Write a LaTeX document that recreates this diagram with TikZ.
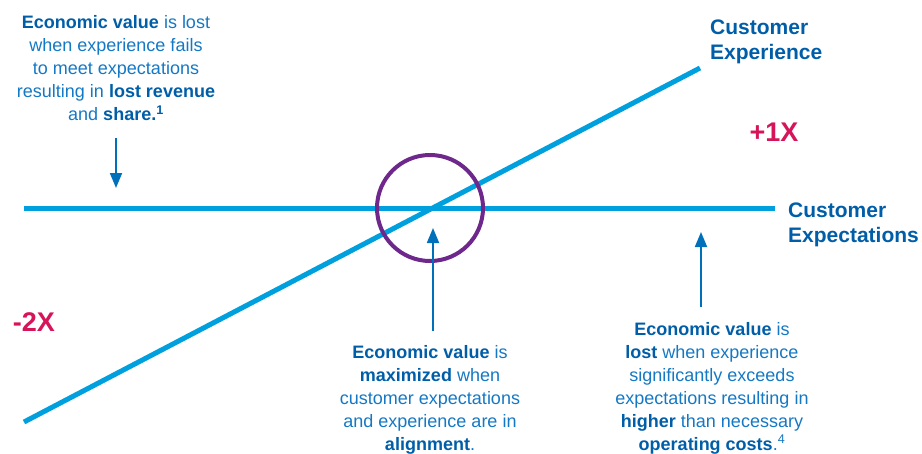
\documentclass[tikz,border=0pt]{standalone}
\usepackage{fontspec}
\setmainfont{Liberation Sans}
\usetikzlibrary{arrows.meta}
\definecolor{lineblue}{RGB}{0,160,222}
\definecolor{txtblue}{RGB}{20,120,196}
\definecolor{boldblue}{RGB}{0,94,168}
\definecolor{arrowblue}{RGB}{0,112,186}
\definecolor{ringpurple}{RGB}{110,40,140}
\definecolor{xred}{RGB}{214,20,90}
\newcommand{\bb}[1]{{\bfseries\color{boldblue}#1}}
\tikzset{
  axisline/.style={draw=lineblue, line width=5pt},
  callout/.style={draw=arrowblue, line width=1.8pt, -{Triangle[length=15pt,width=12pt]}},
  bodytext/.style={align=center, inner sep=0pt, text=txtblue, font=\fontsize{18}{23}\selectfont},
  labeltext/.style={align=left, inner sep=0pt, text=boldblue, font=\bfseries\fontsize{21}{25.5}\selectfont},
  factor/.style={inner sep=0pt, text=xred, font=\bfseries\fontsize{27}{30}\selectfont}
}
\begin{document}
\begin{tikzpicture}[x=1pt,y=-1pt]
\useasboundingbox (0,0) rectangle (922,453);
% axes
\coordinate (hL) at (24,208);
\coordinate (hR) at (775,208);
\coordinate (dL) at (24,422);
\coordinate (dR) at (700,68);
\coordinate (mid) at (430,208);
\draw[axisline] (hL) -- (hR);
\draw[axisline] (dL) -- (dR);
\node[draw=ringpurple, line width=4pt, circle, minimum size=106pt, inner sep=0pt] (ring) at (mid) {};
% labels
\node[labeltext, anchor=west] (cexp) at (710,42) {Customer\\Experience};
\node[labeltext, anchor=west] (cexpt) at (788,225) {Customer\\Expectations};
\node[factor] (plus) at (774,132) {+1X};
\node[factor] (minus) at (34,322) {-2X};
% text blocks
\node[bodytext] (lefttxt) at (116,68) {\bb{Economic value} is lost\\when experience fails\\to meet expectations\\resulting in \bb{lost revenue}\\and \bb{share.\textsuperscript{1}}};
\node[bodytext] (midtxt) at (430,400) {\bb{Economic value} is\\\bb{maximized} when\\customer expectations\\and experience are in\\\bb{alignment}.};
\node[bodytext] (righttxt) at (712,388) {\bb{Economic value} is\\\bb{lost} when experience\\significantly exceeds\\expectations resulting in\\\bb{higher} than necessary\\\bb{operating costs}.\textsuperscript{4}};
% arrows
\coordinate (la1) at (116,138);
\coordinate (la2) at (116,188);
\draw[callout] (la1) -- (la2);
\coordinate (ma1) at (433,331);
\coordinate (ma2) at (433,228);
\draw[callout] (ma1) -- (ma2);
\coordinate (ra1) at (701,307);
\coordinate (ra2) at (701,232);
\draw[callout] (ra1) -- (ra2);
\end{tikzpicture}
\end{document}
